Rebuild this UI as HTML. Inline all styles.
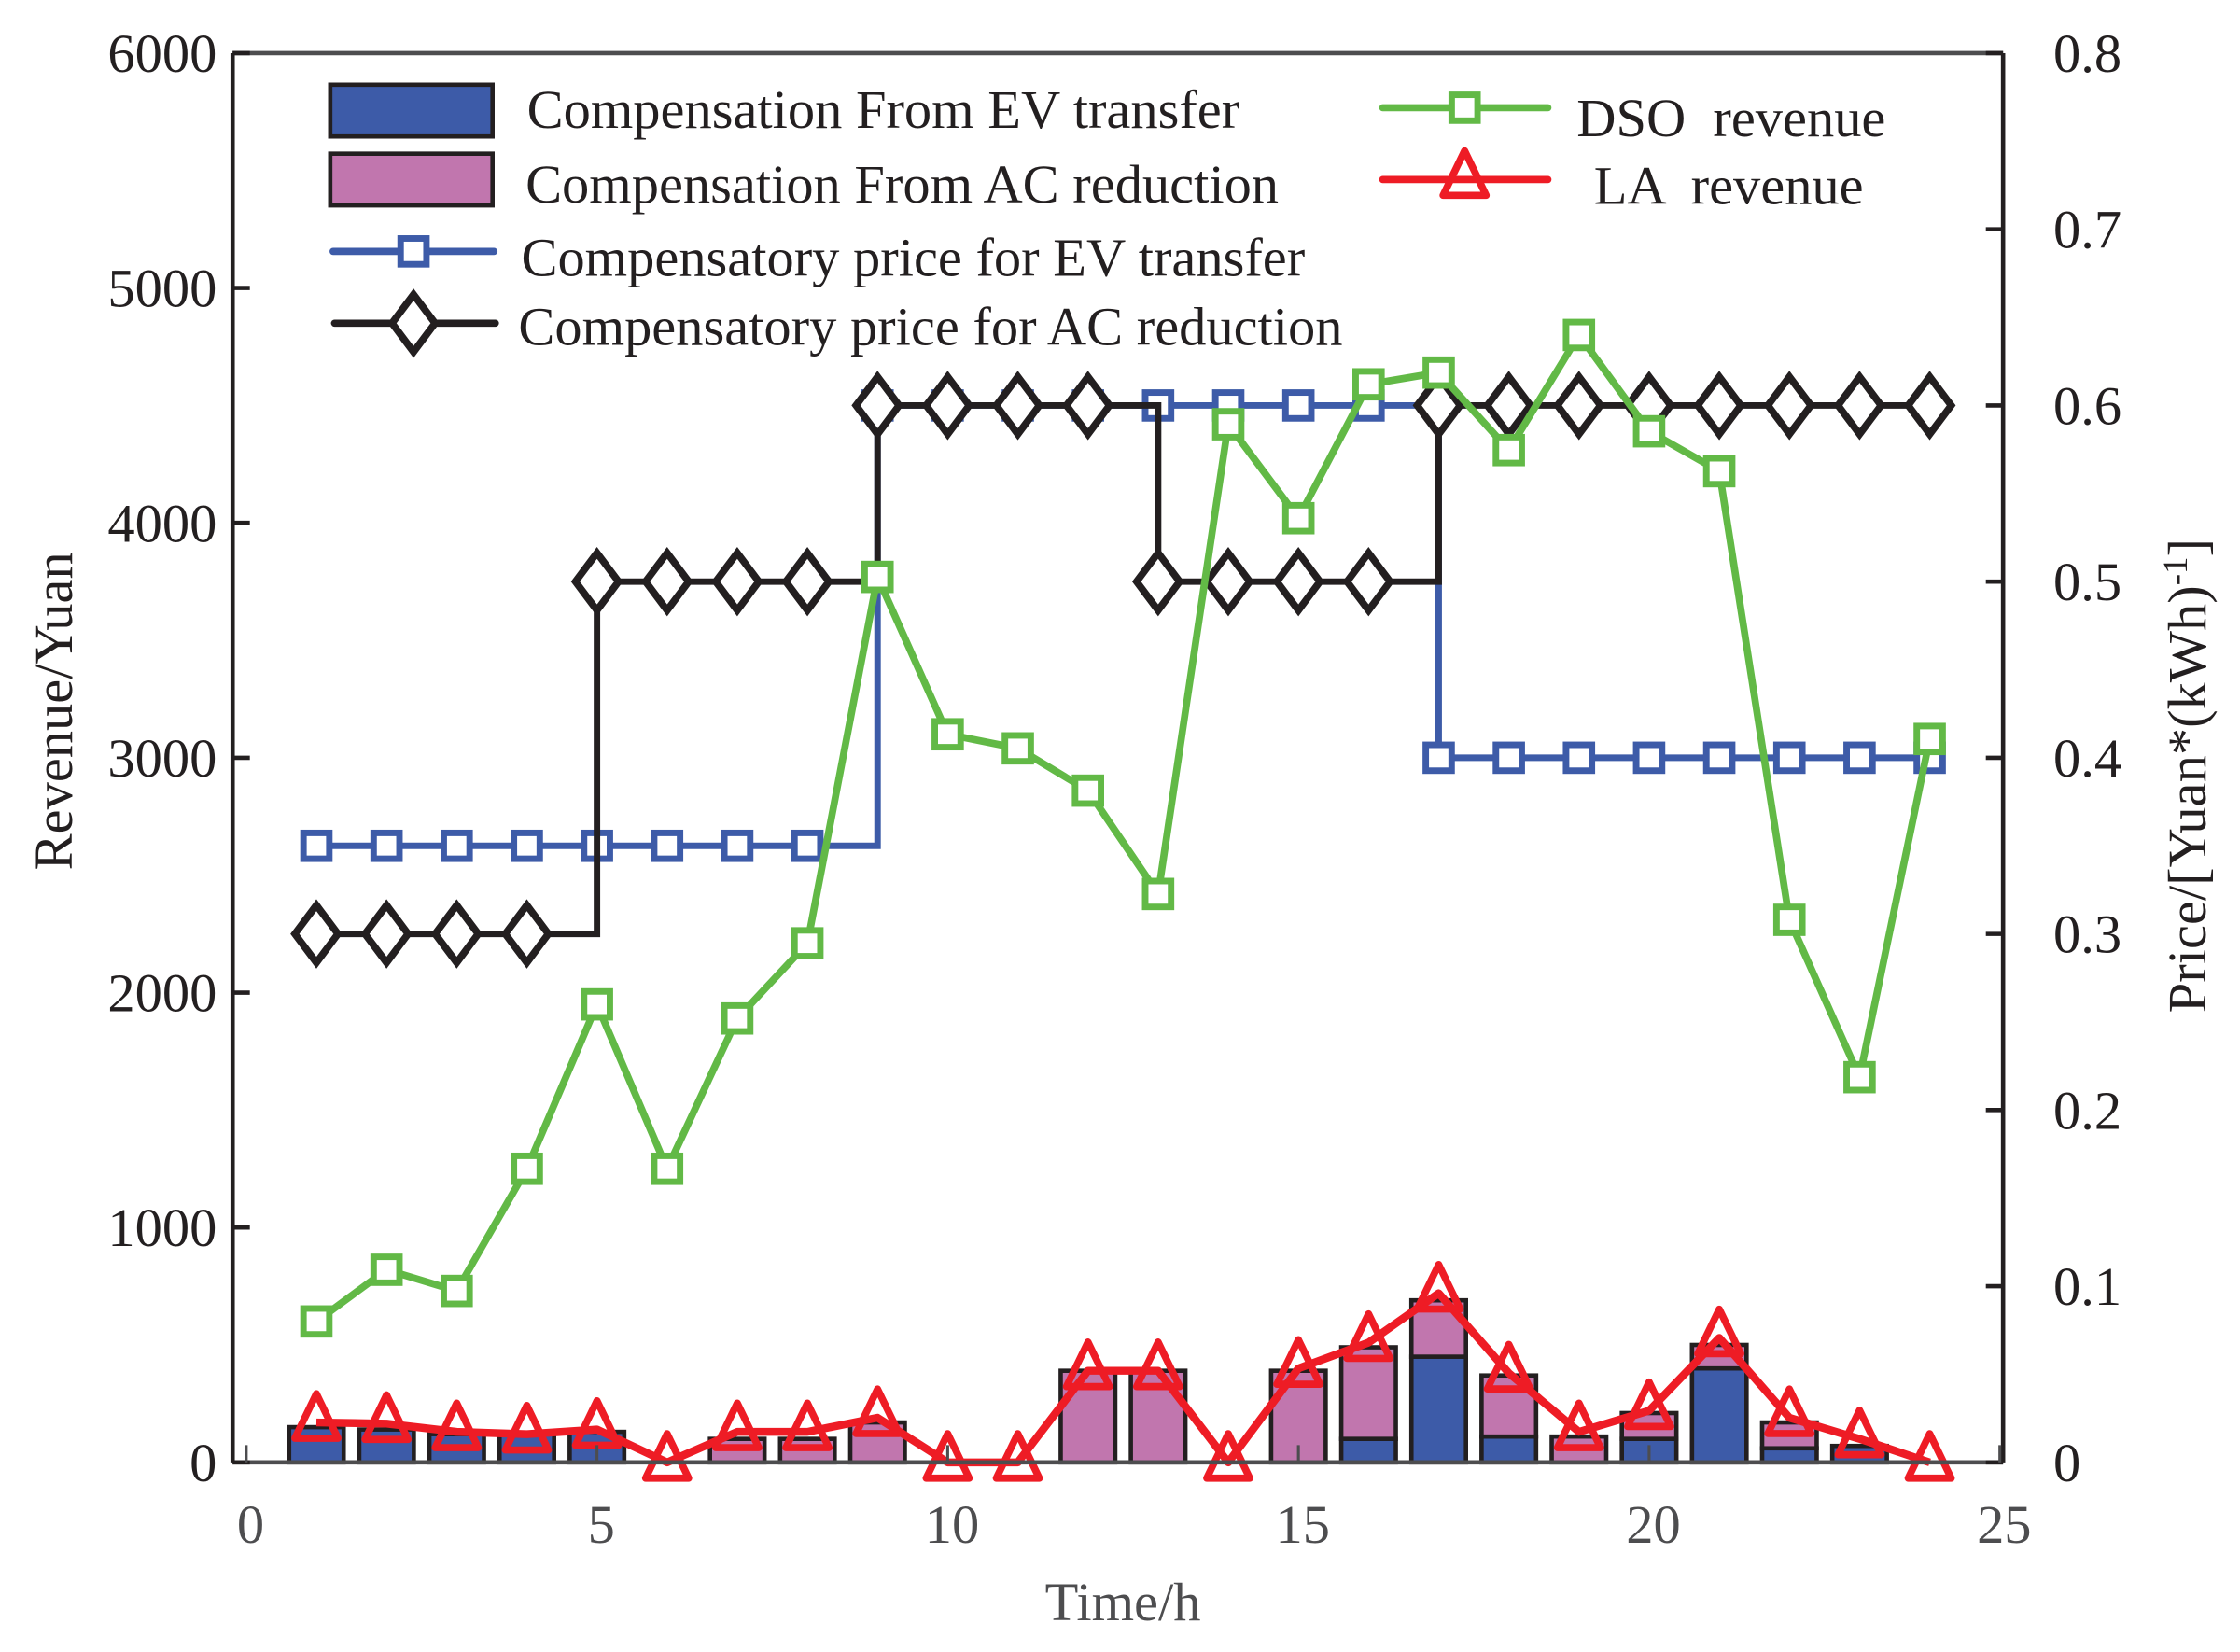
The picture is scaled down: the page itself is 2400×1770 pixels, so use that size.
<!DOCTYPE html>
<html><head><meta charset="utf-8"><style>
html,body{margin:0;padding:0;background:#fff;}
svg{display:block;font-family:"Liberation Serif",serif;}
</style></head><body>
<svg id="chart" width="2400" height="1770" viewBox="0 0 1560 1150" preserveAspectRatio="none" xmlns="http://www.w3.org/2000/svg">
<g id="bars"></g>
<g id="lines"></g>
<g id="axes"></g>
<g id="legend"></g>
</svg>
<script>
const hours = [1,2,3,4,5,6,7,8,9,10,11,12,13,14,15,16,17,18,19,20,21,22,23,24];
const evComp = [150,140,120,120,130,0,0,0,0,0,0,0,0,0,0,100,450,110,0,100,400,60,70,0];
const acComp = [0,0,0,0,0,0,100,100,170,0,0,390,390,0,390,390,240,260,110,110,100,110,0,0];
const dsoRevenue = [600,820,730,1250,1950,1250,1890,2210,3770,3100,3040,2860,2420,4420,4020,4590,4640,4310,4800,4390,4220,2310,1640,3080];
const laRevenue = [170,165,130,120,140,0,130,130,190,0,0,390,390,0,400,510,720,380,130,220,530,190,100,0];
const evPrice = [0.35,0.35,0.35,0.35,0.35,0.35,0.35,0.35,0.6,0.6,0.6,0.6,0.6,0.6,0.6,0.6,0.4,0.4,0.4,0.4,0.4,0.4,0.4,0.4];
const acPrice = [0.3,0.3,0.3,0.3,0.5,0.5,0.5,0.5,0.6,0.6,0.6,0.6,0.5,0.5,0.5,0.5,0.6,0.6,0.6,0.6,0.6,0.6,0.6,0.6];
const xTicks = [0,5,10,15,20,25];
const yLeftTicks = [0,1000,2000,3000,4000,5000,6000];
const yRightTicks = [0,0.1,0.2,0.3,0.4,0.5,0.6,0.7,0.8];

const L=162,R=1395,T=37,B=1018;
const X=t=>171.5+48.85*t;
const YL=v=>B-(B-T)*v/6000;
const YR=v=>B-(B-T)*v/0.8;
const NS="http://www.w3.org/2000/svg";
function mk(tag,attrs,parent){const e=document.createElementNS(NS,tag);for(const k in attrs)e.setAttribute(k,attrs[k]);parent.appendChild(e);return e;}
const gB=document.getElementById('bars'),gLn=document.getElementById('lines'),gA=document.getElementById('axes'),gLg=document.getElementById('legend');

const bw=38;
hours.forEach((h,i)=>{
  const x=X(h)-bw/2;
  if(evComp[i]>0){const r=mk('rect',{x:x,y:YL(evComp[i]),width:bw,height:B-YL(evComp[i]),fill:'#3d5ba8',stroke:'#231f20','stroke-width':3},gB);
  
  }
  if(acComp[i]>0){const y0=evComp[i],y1=evComp[i]+acComp[i];const r=mk('rect',{x:x,y:YL(y1),width:bw,height:YL(y0)-YL(y1),fill:'#c176ae',stroke:'#231f20','stroke-width':3},gB);
  
  }
});

function stepPts(arr,Y){let p=[];hours.forEach((h,i)=>{if(i>0)p.push(X(h)+','+Y(arr[i-1]));p.push(X(h)+','+Y(arr[i]));});return p.join(' ');}
function linePts(arr,Y){return hours.map((h,i)=>X(h)+','+Y(arr[i])).join(' ');}
function square(x,y,c,p,n){const s=mk('rect',{x:x-9,y:y-9,width:18,height:18,fill:'#fff',stroke:c,'stroke-width':4.5},p);}
function diamond(x,y,p,n){const d=mk('polygon',{points:`${x},${y-20} ${x+15},${y} ${x},${y+20} ${x-15},${y}`,fill:'#fff',stroke:'#231f20','stroke-width':5},p);}
function tri(x,y,p,n){const t=mk('polygon',{points:`${x},${y-20} ${x+15},${y+11} ${x-15},${y+11}`,fill:'none',stroke:'#ee1c25','stroke-width':5,'stroke-linejoin':'round'},p);}

let l=mk('polyline',{points:stepPts(evPrice,YR),fill:'none',stroke:'#3d5ba8','stroke-width':4.5},gLn);

hours.forEach((h,i)=>square(X(h),YR(evPrice[i]),'#3d5ba8',gLn,'ev-price-marker-'+h));
l=mk('polyline',{points:stepPts(acPrice,YR),fill:'none',stroke:'#231f20','stroke-width':4.5},gLn);

hours.forEach((h,i)=>diamond(X(h),YR(acPrice[i]),gLn,'ac-price-marker-'+h));
l=mk('polyline',{points:linePts(dsoRevenue,YL),fill:'none',stroke:'#62b946','stroke-width':5,'stroke-linejoin':'round'},gLn);

hours.forEach((h,i)=>square(X(h),YL(dsoRevenue[i]),'#62b946',gLn,'dso-marker-'+h));
l=mk('polyline',{points:linePts(laRevenue,YL),fill:'none',stroke:'#ee1c25','stroke-width':5.5,'stroke-linejoin':'round'},gLn);

hours.forEach((h,i)=>tri(X(h),YL(laRevenue[i]),gLn,'la-marker-'+h));

let f=mk('line',{x1:L,y1:T,x2:R,y2:T,stroke:'#4d4d4f','stroke-width':3},gA);
f=mk('line',{x1:L,y1:B,x2:R,y2:B,stroke:'#4d4d4f','stroke-width':3},gA);
f=mk('line',{x1:L,y1:T,x2:L,y2:B,stroke:'#231f20','stroke-width':3},gA);
f=mk('line',{x1:R,y1:T,x2:R,y2:B,stroke:'#231f20','stroke-width':3},gA);
yLeftTicks.forEach(v=>{const y=YL(v);mk('line',{x1:L,y1:y,x2:L+12,y2:y,stroke:'#231f20','stroke-width':3},gA);
 const t=mk('text',{x:151,y:y+13,'text-anchor':'end','font-size':38,fill:'#231f20'},gA);t.textContent=v;
 });
yRightTicks.forEach(v=>{const y=YR(v);mk('line',{x1:R-12,y1:y,x2:R,y2:y,stroke:'#231f20','stroke-width':3},gA);
 const t=mk('text',{x:1430,y:y+13,'text-anchor':'start','font-size':38,fill:'#231f20'},gA);t.textContent=v;
 });
xTicks.forEach(v=>{const x=X(v);mk('line',{x1:x,y1:B,x2:x,y2:B-12,stroke:'#4d4d4f','stroke-width':2},gA);
 const t=mk('text',{x:x+3,y:1074,'text-anchor':'middle','font-size':38,fill:'#4d4d4f'},gA);t.textContent=v;
 });
let t=mk('text',{x:782,y:1128,'text-anchor':'middle','font-size':38,fill:'#4d4d4f'},gA);t.textContent='Time/h';

t=mk('text',{x:0,y:0,'text-anchor':'middle','font-size':38,fill:'#231f20',transform:'translate(50,495) rotate(-90)'},gA);t.textContent='Revenue/Yuan';

t=mk('text',{x:0,y:0,'text-anchor':'middle','font-size':38,fill:'#231f20',transform:'translate(1536,540) rotate(-90)'},gA);
t.innerHTML='Price/[Yuan*(kWh)<tspan dy="-13" font-size="24">-1</tspan><tspan dy="13">]</tspan>';


function lt(x,y,s,n){const e=mk('text',{x:x,y:y,'font-size':38,fill:'#231f20'},gLg);e.textContent=s;}
let r=mk('rect',{x:230,y:59,width:113,height:36,fill:'#3d5ba8',stroke:'#231f20','stroke-width':3},gLg);
lt(367,89,'Compensation From EV transfer','legend-ev-comp-label');
r=mk('rect',{x:230,y:107,width:113,height:36,fill:'#c176ae',stroke:'#231f20','stroke-width':3},gLg);
lt(366,141,'Compensation From AC reduction','legend-ac-comp-label');
mk('line',{x1:232,y1:175,x2:344,y2:175,stroke:'#3d5ba8','stroke-width':5,'stroke-linecap':'round'},gLg);
square(288,175,'#3d5ba8',gLg,'legend-ev-price-marker');
lt(363,192,'Compensatory price for EV transfer','legend-ev-price-label');
mk('line',{x1:233,y1:225,x2:345,y2:225,stroke:'#231f20','stroke-width':5,'stroke-linecap':'round'},gLg);
diamond(288,225,gLg,'legend-ac-price-marker');
lt(361,240,'Compensatory price for AC reduction','legend-ac-price-label');
mk('line',{x1:963,y1:75,x2:1078,y2:75,stroke:'#62b946','stroke-width':5,'stroke-linecap':'round'},gLg);
square(1020,75,'#62b946',gLg,'legend-dso-marker');
lt(1098,95,'DSO  revenue','legend-dso-label');
mk('line',{x1:963,y1:125,x2:1078,y2:125,stroke:'#ee1c25','stroke-width':5,'stroke-linecap':'round'},gLg);
tri(1020,125,gLg,'legend-la-marker');
lt(1110,142,'LA  revenue','legend-la-label');
document.querySelectorAll('#legend text').forEach(e=>e.setAttribute('xml:space','preserve'));
document.querySelectorAll('#legend text').forEach(e=>e.style.whiteSpace='pre');
</script>
</body></html>
